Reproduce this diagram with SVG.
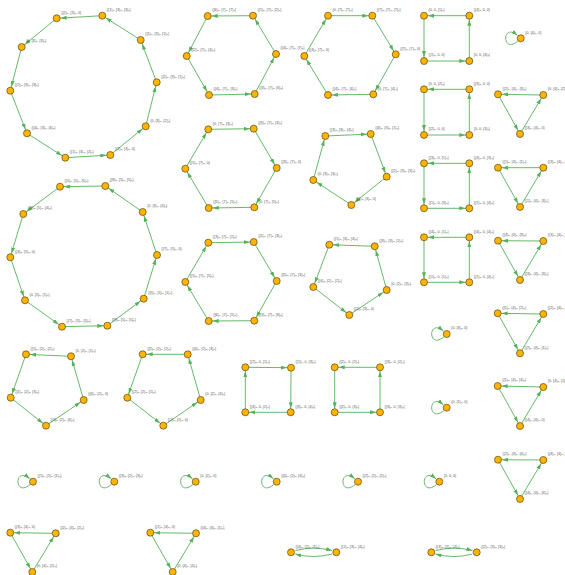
<svg xmlns="http://www.w3.org/2000/svg" width="565" height="575" viewBox="0 0 565 575">
<style>
.n circle{fill:#FFB400;stroke:#5a4716;stroke-width:0.7}
.n text{font-family:"Liberation Sans",Arial,sans-serif;font-size:3.6px;fill:#555}
.e line,.e path{stroke:#55b15a;stroke-width:0.9;fill:none}
.e line{marker-end:url(#ah)}
.e path{marker-end:url(#ah0)}
</style>
<defs>
<marker id="ah" viewBox="0 0 10 4" refX="10" refY="2" markerWidth="10" markerHeight="4" markerUnits="userSpaceOnUse" orient="auto"><path d="M0,0 L6,2 L0,4 z" fill="#55b15a"/></marker>
<marker id="ah0" viewBox="0 0 6 4" refX="6" refY="2" markerWidth="6" markerHeight="4" markerUnits="userSpaceOnUse" orient="auto"><path d="M0,0 L6,2 L0,4 z" fill="#55b15a"/></marker>
</defs>
<g id="connectors" class="e">
<!-- A -->
<line x1="102.3" y1="15.7" x2="56.7" y2="18.3"/>
<line x1="140.7" y1="40" x2="102.3" y2="15.7"/>
<line x1="156.7" y1="82.3" x2="140.7" y2="40"/>
<line x1="145.7" y1="126.3" x2="156.7" y2="82.3"/>
<line x1="110.3" y1="155" x2="145.7" y2="126.3"/>
<line x1="65.3" y1="157.7" x2="110.3" y2="155"/>
<line x1="27" y1="133.3" x2="65.3" y2="157.7"/>
<line x1="10.3" y1="90.7" x2="27" y2="133.3"/>
<line x1="21.7" y1="47" x2="10.3" y2="90.7"/>
<line x1="56.7" y1="18.3" x2="21.7" y2="47"/>
<!-- B -->
<line x1="253" y1="15.7" x2="207.7" y2="16"/>
<line x1="276" y1="54" x2="253" y2="15.7"/>
<line x1="254.7" y1="94" x2="276" y2="54"/>
<line x1="209" y1="95" x2="254.7" y2="94"/>
<line x1="186.7" y1="56" x2="209" y2="95"/>
<line x1="207.7" y1="16" x2="186.7" y2="56"/>
<!-- C -->
<line x1="304.3" y1="56" x2="328" y2="15.7"/>
<line x1="328" y1="15.7" x2="372.3" y2="15.7"/>
<line x1="372.3" y1="15.7" x2="395.7" y2="54.3"/>
<line x1="395.7" y1="54.3" x2="373.3" y2="94.3"/>
<line x1="373.3" y1="94.3" x2="328" y2="95"/>
<line x1="328" y1="95" x2="304.3" y2="56"/>
<!-- D -->
<line x1="469.3" y1="15.7" x2="424" y2="15.7"/>
<line x1="424" y1="15.7" x2="424" y2="61"/>
<line x1="424" y1="61" x2="469.3" y2="61"/>
<line x1="469.3" y1="61" x2="469.3" y2="15.7"/>
<!-- E -->
<line x1="469.3" y1="89.3" x2="424" y2="89.3"/>
<line x1="424" y1="89.3" x2="424" y2="135"/>
<line x1="424" y1="135" x2="469.3" y2="135"/>
<line x1="469.3" y1="135" x2="469.3" y2="89.3"/>
<!-- F -->
<line x1="543.3" y1="95" x2="498" y2="94.3"/>
<line x1="498" y1="94.3" x2="520" y2="134"/>
<line x1="520" y1="134" x2="543.3" y2="95"/>
<!-- G -->
<line x1="208.3" y1="129.3" x2="253.7" y2="128.7"/>
<line x1="253.7" y1="128.7" x2="276.7" y2="168"/>
<line x1="276.7" y1="168" x2="254.3" y2="207.3"/>
<line x1="254.3" y1="207.3" x2="208.7" y2="208"/>
<line x1="208.7" y1="208" x2="185.3" y2="168.7"/>
<line x1="185.3" y1="168.7" x2="208.3" y2="129.3"/>
<!-- H -->
<line x1="325.3" y1="136" x2="370.7" y2="134"/>
<line x1="370.7" y1="134" x2="386.7" y2="176.7"/>
<line x1="386.7" y1="176.7" x2="351.3" y2="205"/>
<line x1="351.3" y1="205" x2="313.3" y2="180"/>
<line x1="313.3" y1="180" x2="325.3" y2="136"/>
<!-- I -->
<line x1="105.3" y1="186" x2="60" y2="186.7"/>
<line x1="142.7" y1="212" x2="105.3" y2="186"/>
<line x1="157" y1="255" x2="142.7" y2="212"/>
<line x1="143.7" y1="298.7" x2="157" y2="255"/>
<line x1="107.3" y1="325.7" x2="143.7" y2="298.7"/>
<line x1="62" y1="326.7" x2="107.3" y2="325.7"/>
<line x1="25" y1="300.3" x2="62" y2="326.7"/>
<line x1="10.3" y1="257.3" x2="25" y2="300.3"/>
<line x1="23.3" y1="214" x2="10.3" y2="257.3"/>
<line x1="60" y1="186.7" x2="23.3" y2="214"/>
<!-- J -->
<line x1="469.3" y1="163.3" x2="424" y2="163.3"/>
<line x1="424" y1="163.3" x2="424" y2="208.3"/>
<line x1="424" y1="208.3" x2="469.3" y2="208.3"/>
<line x1="469.3" y1="208.3" x2="469.3" y2="163.3"/>
<!-- K -->
<line x1="543.3" y1="167.7" x2="498" y2="167.7"/>
<line x1="498" y1="167.7" x2="520" y2="207"/>
<line x1="520" y1="207" x2="543.3" y2="167.7"/>
<!-- L -->
<line x1="208.3" y1="242.7" x2="253.7" y2="242"/>
<line x1="253.7" y1="242" x2="276.7" y2="281"/>
<line x1="276.7" y1="281" x2="254.3" y2="320.7"/>
<line x1="254.3" y1="320.7" x2="208.7" y2="321"/>
<line x1="208.7" y1="321" x2="185.3" y2="282"/>
<line x1="185.3" y1="282" x2="208.3" y2="242.7"/>
<!-- M -->
<line x1="374.7" y1="246.3" x2="329.3" y2="244.7"/>
<line x1="329.3" y1="244.7" x2="313.3" y2="287"/>
<line x1="313.3" y1="287" x2="349.3" y2="315"/>
<line x1="349.3" y1="315" x2="386.7" y2="290"/>
<line x1="386.7" y1="290" x2="374.7" y2="246.3"/>
<!-- N -->
<line x1="469.3" y1="237.3" x2="424" y2="237.3"/>
<line x1="424" y1="237.3" x2="424" y2="282.3"/>
<line x1="424" y1="282.3" x2="469.3" y2="282.3"/>
<line x1="469.3" y1="282.3" x2="469.3" y2="237.3"/>
<!-- O -->
<line x1="543.3" y1="241" x2="498" y2="240.7"/>
<line x1="498" y1="240.7" x2="520" y2="280"/>
<line x1="520" y1="280" x2="543.3" y2="241"/>
<!-- P -->
<line x1="543.3" y1="314" x2="497.7" y2="313.3"/>
<line x1="497.7" y1="313.3" x2="520" y2="353.3"/>
<line x1="520" y1="353.3" x2="543.3" y2="314"/>
<!-- Q -->
<line x1="543.3" y1="387" x2="497.7" y2="386"/>
<line x1="497.7" y1="386" x2="520" y2="426"/>
<line x1="520" y1="426" x2="543.3" y2="387"/>
<!-- R -->
<line x1="71" y1="356.3" x2="26" y2="354.3"/>
<line x1="26" y1="354.3" x2="10.7" y2="397.7"/>
<line x1="10.7" y1="397.7" x2="46" y2="425.7"/>
<line x1="46" y1="425.7" x2="83.7" y2="400"/>
<line x1="83.7" y1="400" x2="71" y2="356.3"/>
<!-- S -->
<line x1="187.7" y1="354.3" x2="142.7" y2="354.3"/>
<line x1="142.7" y1="354.3" x2="127.3" y2="397.7"/>
<line x1="127.3" y1="397.7" x2="163.3" y2="425.7"/>
<line x1="163.3" y1="425.7" x2="200.7" y2="400"/>
<line x1="200.7" y1="400" x2="187.7" y2="354.3"/>
<!-- T -->
<line x1="245.3" y1="367.3" x2="291" y2="367.7"/>
<line x1="291" y1="367.7" x2="290.7" y2="412.3"/>
<line x1="290.7" y1="412.3" x2="245.3" y2="412.3"/>
<line x1="245.3" y1="412.3" x2="245.3" y2="367.3"/>
<!-- U -->
<line x1="380" y1="367.3" x2="334.7" y2="367.3"/>
<line x1="334.7" y1="367.3" x2="334.7" y2="412.3"/>
<line x1="334.7" y1="412.3" x2="380" y2="412.3"/>
<line x1="380" y1="412.3" x2="380" y2="367.3"/>
<!-- V -->
<line x1="543.3" y1="460" x2="498" y2="459.7"/>
<line x1="498" y1="459.7" x2="520" y2="499"/>
<line x1="520" y1="499" x2="543.3" y2="460"/>
<!-- W -->
<line x1="55.7" y1="533.3" x2="10.3" y2="532.7"/>
<line x1="10.3" y1="532.7" x2="32.3" y2="572"/>
<line x1="32.3" y1="572" x2="55.7" y2="533.3"/>
<!-- X -->
<line x1="196" y1="533.3" x2="150.3" y2="532.7"/>
<line x1="150.3" y1="532.7" x2="172.7" y2="572"/>
<line x1="172.7" y1="572" x2="196" y2="533.3"/>
<!-- 2-cycles -->
<path d="M295.3,550.6 Q313.6,545.6 332,550.6"/>
<path d="M332,554 Q313.6,559 295.3,554"/>
<path d="M435.6,550.6 Q454,545.6 472.4,550.6"/>
<path d="M472.4,554 Q454,559 435.6,554"/>
<!-- self loops -->
<path d="M517.7,41.3 C501.7,54.3 501.7,22.3 517.4,35.3"/>
<path d="M443.7,337 C427.7,350 427.7,318 443.4,331"/>
<path d="M443.7,410.7 C427.7,423.7 427.7,391.7 443.4,404.7"/>
<path d="M30,484.7 C14,497.7 14,465.7 29.7,478.7"/>
<path d="M111.3,484.7 C95.3,497.7 95.3,465.7 111,478.7"/>
<path d="M192.7,484.7 C176.7,497.7 176.7,465.7 192.4,478.7"/>
<path d="M273.7,484.7 C257.7,497.7 257.7,465.7 273.4,478.7"/>
<path d="M355,484.7 C339,497.7 339,465.7 354.7,478.7"/>
<path d="M436.3,484.7 C420.3,497.7 420.3,465.7 436,478.7"/>
</g>
<!-- Nodes -->
<g id="A0" class="n"><circle cx="56.7" cy="18.3" r="3.5"/><text x="61.2" y="13.5">{{2}₃, {3}₃, 0}</text></g>
<g id="A1" class="n"><circle cx="102.3" cy="15.7" r="3.5"/><text x="106.8" y="10.9">{{1}₃, {3}₃, {3}₃}</text></g>
<g id="A2" class="n"><circle cx="140.7" cy="40" r="3.5"/><text x="145.2" y="35.2">{{1}₃, {3}₃, {1}₃}</text></g>
<g id="A3" class="n"><circle cx="156.7" cy="82.3" r="3.5"/><text x="161.2" y="77.5">{{2}₃, {3}₃, {1}₃}</text></g>
<g id="A4" class="n"><circle cx="145.7" cy="126.3" r="3.5"/><text x="150.2" y="121.5">{0, {3}₃, {2}₃}</text></g>
<g id="A5" class="n"><circle cx="110.3" cy="155" r="3.5"/><text x="114.8" y="150.2">{{2}₃, {3}₃, 0}</text></g>
<g id="A6" class="n"><circle cx="65.3" cy="157.7" r="3.5"/><text x="69.8" y="152.9">{{1}₃, {3}₃, {2}₃}</text></g>
<g id="A7" class="n"><circle cx="27" cy="133.3" r="3.5"/><text x="31.5" y="128.5">{{4}₃, {3}₃, {4}₃}</text></g>
<g id="A8" class="n"><circle cx="10.3" cy="90.7" r="3.5"/><text x="14.8" y="85.9">{{2}₃, {3}₃, {3}₃}</text></g>
<g id="A9" class="n"><circle cx="21.7" cy="47" r="3.5"/><text x="26.2" y="42.2">{0, {3}₃, {3}₃}</text></g>

<g id="B0" class="n"><circle cx="207.7" cy="16" r="3.5"/><text x="212.2" y="11.2">{{6}₃, {7}₃, {7}₃}</text></g>
<g id="B1" class="n"><circle cx="253" cy="15.7" r="3.5"/><text x="257.5" y="10.9">{{1}₃, {7}₃, {2}₃}</text></g>
<g id="B2" class="n"><circle cx="276" cy="54" r="3.5"/><text x="280.5" y="49.2">{{4}₃, {7}₃, {7}₃}</text></g>
<g id="B3" class="n"><circle cx="254.7" cy="94" r="3.5"/><text x="259.2" y="89.2">{{3}₃, {7}₃, {6}₃}</text></g>
<g id="B4" class="n"><circle cx="209" cy="95" r="3.5"/><text x="213.5" y="90.2">{{4}₃, {7}₃, {3}₃}</text></g>
<g id="B5" class="n"><circle cx="186.7" cy="56" r="3.5"/><text x="191.2" y="51.2">{{2}₃, {7}₃, {4}₃}</text></g>

<g id="C0" class="n"><circle cx="328" cy="15.7" r="3.5"/><text x="332.5" y="10.9">{0, {7}₃, {7}₃}</text></g>
<g id="C1" class="n"><circle cx="372.3" cy="15.7" r="3.5"/><text x="376.8" y="10.9">{{7}₃, {7}₃, {7}₃}</text></g>
<g id="C2" class="n"><circle cx="395.7" cy="54.3" r="3.5"/><text x="400.2" y="49.5">{{7}₃, {7}₃, 0}</text></g>
<g id="C3" class="n"><circle cx="373.3" cy="94.3" r="3.5"/><text x="377.8" y="89.5">{0, {7}₃, {4}₃}</text></g>
<g id="C4" class="n"><circle cx="328" cy="95" r="3.5"/><text x="332.5" y="90.2">{{4}₃, {7}₃, {4}₃}</text></g>
<g id="C5" class="n"><circle cx="304.3" cy="56" r="3.5"/><text x="308.8" y="51.2">{{4}₃, {7}₃, 0}</text></g>

<g id="D0" class="n"><circle cx="424" cy="15.7" r="3.5"/><text x="428.5" y="10.9">{0, 0, {1}₃}</text></g>
<g id="D1" class="n"><circle cx="469.3" cy="15.7" r="3.5"/><text x="473.8" y="10.9">{{4}₃, 0, 0}</text></g>
<g id="D2" class="n"><circle cx="424" cy="61" r="3.5"/><text x="428.5" y="56.2">{{1}₃, 0, 0}</text></g>
<g id="D3" class="n"><circle cx="469.3" cy="61" r="3.5"/><text x="473.8" y="56.2">{0, 0, {4}₃}</text></g>

<g id="L1" class="n"><circle cx="520.7" cy="38.3" r="3.5"/><text x="525.2" y="33.5">{0, {4}₃, 0}</text></g>

<g id="E0" class="n"><circle cx="424" cy="89.3" r="3.5"/><text x="428.5" y="84.5">{0, 0, {2}₃}</text></g>
<g id="E1" class="n"><circle cx="469.3" cy="89.3" r="3.5"/><text x="473.8" y="84.5">{{3}₃, 0, 0}</text></g>
<g id="E2" class="n"><circle cx="424" cy="135" r="3.5"/><text x="428.5" y="130.2">{{2}₃, 0, 0}</text></g>
<g id="E3" class="n"><circle cx="469.3" cy="135" r="3.5"/><text x="473.8" y="130.2">{0, 0, {3}₃}</text></g>

<g id="F0" class="n"><circle cx="498" cy="94.3" r="3.5"/><text x="502.5" y="89.5">{{2}₃, {4}₃, {3}₃}</text></g>
<g id="F1" class="n"><circle cx="543.3" cy="95" r="3.5"/><text x="547.8" y="90.2">{0, {4}₃, {2}₃}</text></g>
<g id="F2" class="n"><circle cx="520" cy="134" r="3.5"/><text x="524.5" y="129.2">{{3}₃, {4}₃, 0}</text></g>

<g id="G0" class="n"><circle cx="208.3" cy="129.3" r="3.5"/><text x="212.8" y="124.5">{0, {7}₃, {3}₃}</text></g>
<g id="G1" class="n"><circle cx="253.7" cy="128.7" r="3.5"/><text x="258.2" y="123.9">{{3}₃, {7}₃, {3}₃}</text></g>
<g id="G2" class="n"><circle cx="276.7" cy="168" r="3.5"/><text x="281.2" y="163.2">{{3}₃, {7}₃, 0}</text></g>
<g id="G3" class="n"><circle cx="254.3" cy="207.3" r="3.5"/><text x="258.8" y="202.5">{0, {7}₃, {5}₃}</text></g>
<g id="G4" class="n"><circle cx="208.7" cy="208" r="3.5"/><text x="213.2" y="203.2">{{5}₃, {7}₃, {5}₃}</text></g>
<g id="G5" class="n"><circle cx="185.3" cy="168.7" r="3.5"/><text x="189.8" y="163.9">{{5}₃, {7}₃, 0}</text></g>

<g id="H0" class="n"><circle cx="325.3" cy="136" r="3.5"/><text x="329.8" y="131.2">{{3}₃, {3}₃, {4}₃}</text></g>
<g id="H1" class="n"><circle cx="370.7" cy="134" r="3.5"/><text x="375.2" y="129.2">{{4}₃, {3}₃, {1}₃}</text></g>
<g id="H2" class="n"><circle cx="386.7" cy="176.7" r="3.5"/><text x="391.2" y="171.9">{{1}₃, {3}₃, {3}₃}</text></g>
<g id="H3" class="n"><circle cx="351.3" cy="205" r="3.5"/><text x="355.8" y="200.2">{{4}₃, {3}₃, 0}</text></g>
<g id="H4" class="n"><circle cx="313.3" cy="180" r="3.5"/><text x="317.8" y="175.2">{0, {3}₃, {3}₃}</text></g>

<g id="I0" class="n"><circle cx="60" cy="186.7" r="3.5"/><text x="64.5" y="181.9">{{5}₃, {5}₃, {5}₃}</text></g>
<g id="I1" class="n"><circle cx="105.3" cy="186" r="3.5"/><text x="109.8" y="181.2">{{8}₃, {5}₃, {5}₃}</text></g>
<g id="I2" class="n"><circle cx="142.7" cy="212" r="3.5"/><text x="147.2" y="207.2">{0, {3}₃, {4}₃}</text></g>
<g id="I3" class="n"><circle cx="157" cy="255" r="3.5"/><text x="161.5" y="250.2">{{7}₃, {5}₃, 0}</text></g>
<g id="I4" class="n"><circle cx="143.7" cy="298.7" r="3.5"/><text x="148.2" y="293.9">{{5}₃, {5}₃, {1}₃}</text></g>
<g id="I5" class="n"><circle cx="107.3" cy="325.7" r="3.5"/><text x="111.8" y="320.9">{{8}₃, {5}₃, {5}₃}</text></g>
<g id="I6" class="n"><circle cx="62" cy="326.7" r="3.5"/><text x="66.5" y="321.9">{{7}₃, {5}₃, {5}₃}</text></g>
<g id="I7" class="n"><circle cx="25" cy="300.3" r="3.5"/><text x="29.5" y="295.5">{0, {5}₃, {1}₃}</text></g>
<g id="I8" class="n"><circle cx="10.3" cy="257.3" r="3.5"/><text x="14.8" y="252.5">{{4}₃, {5}₃, 0}</text></g>
<g id="I9" class="n"><circle cx="23.3" cy="214" r="3.5"/><text x="27.8" y="209.2">{{9}₃, {5}₃, {4}₃}</text></g>

<g id="J0" class="n"><circle cx="424" cy="163.3" r="3.5"/><text x="428.5" y="158.5">{{3}₃, 0, {1}₃}</text></g>
<g id="J1" class="n"><circle cx="469.3" cy="163.3" r="3.5"/><text x="473.8" y="158.5">{{4}₃, 0, {3}₃}</text></g>
<g id="J2" class="n"><circle cx="424" cy="208.3" r="3.5"/><text x="428.5" y="203.5">{{1}₃, 0, {3}₃}</text></g>
<g id="J3" class="n"><circle cx="469.3" cy="208.3" r="3.5"/><text x="473.8" y="203.5">{{2}₃, 0, {4}₃}</text></g>

<g id="K0" class="n"><circle cx="498" cy="167.7" r="3.5"/><text x="502.5" y="162.9">{{1}₃, {4}₃, {1}₃}</text></g>
<g id="K1" class="n"><circle cx="543.3" cy="167.7" r="3.5"/><text x="547.8" y="162.9">{{3}₃, {4}₃, {4}₃}</text></g>
<g id="K2" class="n"><circle cx="520" cy="207" r="3.5"/><text x="524.5" y="202.2">{{1}₃, {4}₃, {3}₃}</text></g>

<g id="L0" class="n"><circle cx="208.3" cy="242.7" r="3.5"/><text x="212.8" y="237.9">{{3}₃, {7}₃, {1}₃}</text></g>
<g id="L1n" class="n"><circle cx="253.7" cy="242" r="3.5"/><text x="258.2" y="237.2">{{1}₃, {7}₃, {3}₃}</text></g>
<g id="L2n" class="n"><circle cx="276.7" cy="281" r="3.5"/><text x="281.2" y="276.2">{{5}₃, {7}₃, {3}₃}</text></g>
<g id="L3n" class="n"><circle cx="254.3" cy="320.7" r="3.5"/><text x="258.8" y="315.9">{{3}₃, {7}₃, {6}₃}</text></g>
<g id="L4n" class="n"><circle cx="208.7" cy="321" r="3.5"/><text x="213.2" y="316.2">{{6}₃, {7}₃, {5}₃}</text></g>
<g id="L5n" class="n"><circle cx="185.3" cy="282" r="3.5"/><text x="189.8" y="277.2">{{5}₃, {7}₃, {5}₃}</text></g>

<g id="M0" class="n"><circle cx="329.3" cy="244.7" r="3.5"/><text x="333.8" y="239.9">{{1}₃, {3}₃, {4}₃}</text></g>
<g id="M1" class="n"><circle cx="374.7" cy="246.3" r="3.5"/><text x="379.2" y="241.5">{{3}₃, {3}₃, {1}₃}</text></g>
<g id="M2" class="n"><circle cx="386.7" cy="290" r="3.5"/><text x="391.2" y="285.2">{0, {2}₃, {3}₃}</text></g>
<g id="M3" class="n"><circle cx="349.3" cy="315" r="3.5"/><text x="353.8" y="310.2">{{2}₃, {3}₃, 0}</text></g>
<g id="M4" class="n"><circle cx="313.3" cy="287" r="3.5"/><text x="317.8" y="282.2">{{4}₃, {2}₃, {2}₃}</text></g>

<g id="N0" class="n"><circle cx="424" cy="237.3" r="3.5"/><text x="428.5" y="232.5">{{4}₃, 0, {1}₃}</text></g>
<g id="N1" class="n"><circle cx="469.3" cy="237.3" r="3.5"/><text x="473.8" y="232.5">{{4}₃, 0, {4}₃}</text></g>
<g id="N2" class="n"><circle cx="424" cy="282.3" r="3.5"/><text x="428.5" y="277.5">{{1}₃, 0, {1}₃}</text></g>
<g id="N3" class="n"><circle cx="469.3" cy="282.3" r="3.5"/><text x="473.8" y="277.5">{{1}₃, 0, {4}₃}</text></g>

<g id="O0" class="n"><circle cx="498" cy="240.7" r="3.5"/><text x="502.5" y="235.9">{{4}₃, {4}₃, {3}₃}</text></g>
<g id="O1" class="n"><circle cx="543.3" cy="241" r="3.5"/><text x="547.8" y="236.2">{{3}₃, {4}₃, {2}₃}</text></g>
<g id="O2" class="n"><circle cx="520" cy="280" r="3.5"/><text x="524.5" y="275.2">{{3}₃, {4}₃, {3}₃}</text></g>

<g id="L2" class="n"><circle cx="446.7" cy="334" r="3.5"/><text x="451.2" y="329.2">{0, {3}₃, 0}</text></g>
<g id="L3" class="n"><circle cx="446.7" cy="407.7" r="3.5"/><text x="451.2" y="402.9">{0, {1}₃, 0}</text></g>

<g id="P0" class="n"><circle cx="497.7" cy="313.3" r="3.5"/><text x="502.2" y="308.5">{{1}₃, {4}₃, {2}₃}</text></g>
<g id="P1" class="n"><circle cx="543.3" cy="314" r="3.5"/><text x="547.8" y="309.2">{{2}₃, {4}₃, {4}₃}</text></g>
<g id="P2" class="n"><circle cx="520" cy="353.3" r="3.5"/><text x="524.5" y="348.5">{{2}₃, {4}₃, {1}₃}</text></g>

<g id="Q0" class="n"><circle cx="497.7" cy="386" r="3.5"/><text x="502.2" y="381.2">{{1}₃, {4}₃, {4}₃}</text></g>
<g id="Q1" class="n"><circle cx="543.3" cy="387" r="3.5"/><text x="547.8" y="382.2">{0, {4}₃, {1}₃}</text></g>
<g id="Q2" class="n"><circle cx="520" cy="426" r="3.5"/><text x="524.5" y="421.2">{{4}₃, {4}₃, 0}</text></g>

<g id="R0" class="n"><circle cx="26" cy="354.3" r="3.5"/><text x="30.5" y="349.5">{{1}₃, {2}₃, {2}₃}</text></g>
<g id="R1" class="n"><circle cx="71" cy="356.3" r="3.5"/><text x="75.5" y="351.5">{0, {2}₃, {1}₃}</text></g>
<g id="R2" class="n"><circle cx="10.7" cy="397.7" r="3.5"/><text x="15.2" y="392.9">{{1}₃, {2}₃, {3}₃}</text></g>
<g id="R3" class="n"><circle cx="46" cy="425.7" r="3.5"/><text x="50.5" y="420.9">{{3}₃, {2}₃, {4}₃}</text></g>
<g id="R4" class="n"><circle cx="83.7" cy="400" r="3.5"/><text x="88.2" y="395.2">{{4}₃, {2}₃, 0}</text></g>

<g id="S0" class="n"><circle cx="142.7" cy="354.3" r="3.5"/><text x="147.2" y="349.5">{{2}₃, {2}₃, {2}₃}</text></g>
<g id="S1" class="n"><circle cx="187.7" cy="354.3" r="3.5"/><text x="192.2" y="349.5">{{4}₃, {2}₃, {3}₃}</text></g>
<g id="S2" class="n"><circle cx="127.3" cy="397.7" r="3.5"/><text x="131.8" y="392.9">{{2}₃, {2}₃, {1}₃}</text></g>
<g id="S3" class="n"><circle cx="163.3" cy="425.7" r="3.5"/><text x="167.8" y="420.9">{{2}₃, {2}₃, 0}</text></g>
<g id="S4" class="n"><circle cx="200.7" cy="400" r="3.5"/><text x="205.2" y="395.2">{0, {2}₃, {4}₃}</text></g>

<g id="T0" class="n"><circle cx="245.3" cy="367.3" r="3.5"/><text x="249.8" y="362.5">{{2}₃, 0, {1}₃}</text></g>
<g id="T1" class="n"><circle cx="291" cy="367.7" r="3.5"/><text x="295.5" y="362.9">{{1}₃, 0, {3}₃}</text></g>
<g id="T2" class="n"><circle cx="245.3" cy="412.3" r="3.5"/><text x="249.8" y="407.5">{{4}₃, 0, {2}₃}</text></g>
<g id="T3" class="n"><circle cx="290.7" cy="412.3" r="3.5"/><text x="295.2" y="407.5">{{3}₃, 0, {4}₃}</text></g>

<g id="U0" class="n"><circle cx="334.7" cy="367.3" r="3.5"/><text x="339.2" y="362.5">{{2}₃, 0, {2}₃}</text></g>
<g id="U1" class="n"><circle cx="380" cy="367.3" r="3.5"/><text x="384.5" y="362.5">{{3}₃, 0, {2}₃}</text></g>
<g id="U2" class="n"><circle cx="334.7" cy="412.3" r="3.5"/><text x="339.2" y="407.5">{{2}₃, 0, {3}₃}</text></g>
<g id="U3" class="n"><circle cx="380" cy="412.3" r="3.5"/><text x="384.5" y="407.5">{{3}₃, 0, {3}₃}</text></g>

<g id="L4" class="n"><circle cx="33" cy="481.7" r="3.5"/><text x="37.5" y="476.9">{{1}₃, {2}₃, {1}₃}</text></g>
<g id="L5" class="n"><circle cx="114.3" cy="481.7" r="3.5"/><text x="118.8" y="476.9">{{3}₃, {2}₃, {3}₃}</text></g>
<g id="L6" class="n"><circle cx="195.7" cy="481.7" r="3.5"/><text x="200.2" y="476.9">{0, {2}₃, 0}</text></g>
<g id="L7" class="n"><circle cx="276.7" cy="481.7" r="3.5"/><text x="281.2" y="476.9">{{4}₃, {2}₃, {4}₃}</text></g>
<g id="L8" class="n"><circle cx="358" cy="481.7" r="3.5"/><text x="362.5" y="476.9">{{2}₃, {2}₃, {2}₃}</text></g>
<g id="L9" class="n"><circle cx="439.3" cy="481.7" r="3.5"/><text x="443.8" y="476.9">{0, 0, 0}</text></g>

<g id="V0" class="n"><circle cx="498" cy="459.7" r="3.5"/><text x="502.5" y="454.9">{{2}₃, {4}₃, {4}₃}</text></g>
<g id="V1" class="n"><circle cx="543.3" cy="460" r="3.5"/><text x="547.8" y="455.2">{{4}₃, {4}₃, {2}₃}</text></g>
<g id="V2" class="n"><circle cx="520" cy="499" r="3.5"/><text x="524.5" y="494.2">{{4}₃, {4}₃, {4}₃}</text></g>

<g id="W0" class="n"><circle cx="10.3" cy="532.7" r="3.5"/><text x="14.8" y="527.9">{{3}₃, {4}₃, 0}</text></g>
<g id="W1" class="n"><circle cx="55.7" cy="533.3" r="3.5"/><text x="60.2" y="528.5">{{2}₃, {4}₃, {2}₃}</text></g>
<g id="W2" class="n"><circle cx="32.3" cy="572" r="3.5"/><text x="36.8" y="567.2">{0, {4}₃, {2}₃}</text></g>

<g id="X0" class="n"><circle cx="150.3" cy="532.7" r="3.5"/><text x="154.8" y="527.9">{{1}₃, {4}₃, 0}</text></g>
<g id="X1" class="n"><circle cx="196" cy="533.3" r="3.5"/><text x="200.5" y="528.5">{{4}₃, {4}₃, {1}₃}</text></g>
<g id="X2" class="n"><circle cx="172.7" cy="572" r="3.5"/><text x="177.2" y="567.2">{0, {4}₃, {4}₃}</text></g>

<g id="Y0" class="n"><circle cx="291" cy="552.3" r="3.5"/><text x="295.5" y="547.5">{{4}₃, {2}₃, {1}₃}</text></g>
<g id="Y1" class="n"><circle cx="336.3" cy="552.3" r="3.5"/><text x="340.8" y="547.5">{{1}₃, {3}₃, {4}₃}</text></g>
<g id="Z0" class="n"><circle cx="431.3" cy="552.3" r="3.5"/><text x="435.8" y="547.5">{{3}₃, {2}₃, {2}₃}</text></g>
<g id="Z1" class="n"><circle cx="476.7" cy="552.3" r="3.5"/><text x="481.2" y="547.5">{{2}₃, {3}₃, {3}₃}</text></g>
</svg>
